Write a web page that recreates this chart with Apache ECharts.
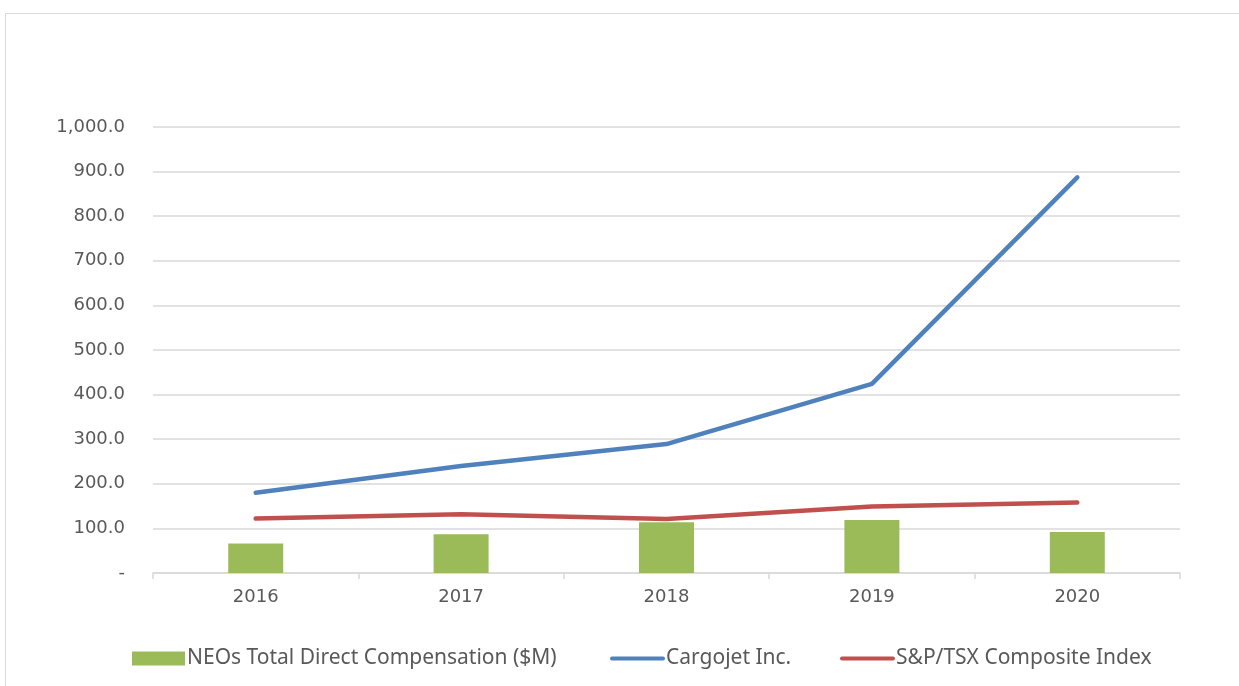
<!DOCTYPE html>
<html><head><meta charset="utf-8">
<script src="https://cdn.jsdelivr.net/npm/echarts@6/dist/echarts.min.js"></script>
<style>html,body{margin:0;padding:0;background:#fff}#c{width:1239px;height:686px}</style>
</head><body><div id="c"></div>
<script>
const years = ['2016','2017','2018','2019','2020'];
const neoComp = [66, 87, 114, 119, 92];
const cargojet = [180, 240, 289, 424, 887];
const sptsx = [122, 132, 121, 149, 158];
const yTicks = {min: 0, max: 1000, interval: 100};

const chart = echarts.init(document.getElementById('c'));
const txt = '#595959';
const lg = {fontFamily: 'Noto Sans', fontSize: 21, color: txt};
chart.setOption({
  animation: false,
  backgroundColor: '#fff',
  graphic: [{type: 'rect', shape: {x: 5.5, y: 13.5, width: 1400, height: 800}, style: {fill: 'none', stroke: '#d9d9d9', lineWidth: 1}, silent: true}],
  grid: {left: 153, right: 59, top: 127, bottom: 113, containLabel: false},
  legend: [
    {data: ['NEOs Total Direct Compensation ($M)'], left: 127, top: 643, itemWidth: 53, itemHeight: 14, itemGap: 3, icon: 'rect',
     textStyle: Object.assign({padding: [0,0,0,-3]}, lg)},
    {data: ['Cargojet Inc.'], left: 605, top: 643, itemWidth: 55, itemHeight: 14, icon: 'path://M2,5 L53,5 A2,2 0 0 1 53,9 L2,9 A2,2 0 0 1 2,5 Z',
     textStyle: Object.assign({padding: [0,0,0,-4]}, lg)},
    {data: ['S&P/TSX Composite Index'], left: 835, top: 643, itemWidth: 55, itemHeight: 14, icon: 'path://M2,5 L53,5 A2,2 0 0 1 53,9 L2,9 A2,2 0 0 1 2,5 Z',
     textStyle: Object.assign({padding: [0,0,0,-4]}, lg)}
  ],
  xAxis: {
    type: 'category', data: years, boundaryGap: true,
    axisLine: {show: true, lineStyle: {color: '#d9d9d9', width: 1.5}},
    axisTick: {show: true, alignWithLabel: false, length: 6, lineStyle: {color: '#d9d9d9', width: 1.5}},
    axisLabel: {color: txt, fontFamily: 'DejaVu Sans', fontSize: 18, margin: 15}
  },
  yAxis: {
    type: 'value', min: yTicks.min, max: yTicks.max, interval: yTicks.interval,
    axisLine: {show: false}, axisTick: {show: false},
    splitLine: {lineStyle: {color: '#d9d9d9', width: 1.5}},
    axisLabel: {color: txt, fontFamily: 'DejaVu Sans', fontSize: 18, margin: 28,
      formatter: v => v === 0 ? '-' : v.toLocaleString('en-US', {minimumFractionDigits: 1, maximumFractionDigits: 1})}
  },
  series: [
    {name: 'NEOs Total Direct Compensation ($M)', type: 'bar', data: neoComp, barWidth: 55, itemStyle: {color: '#9bbb59'}, z: 1},
    {name: 'Cargojet Inc.', type: 'line', data: cargojet, showSymbol: false, symbol: 'none', lineStyle: {color: '#4f81bd', width: 4.5, cap: 'round'}, itemStyle: {color: '#4f81bd'}, z: 3},
    {name: 'S&P/TSX Composite Index', type: 'line', data: sptsx, showSymbol: false, symbol: 'none', lineStyle: {color: '#c0504d', width: 4.5, cap: 'round'}, itemStyle: {color: '#c0504d'}, z: 2}
  ]
});
</script></body></html>
